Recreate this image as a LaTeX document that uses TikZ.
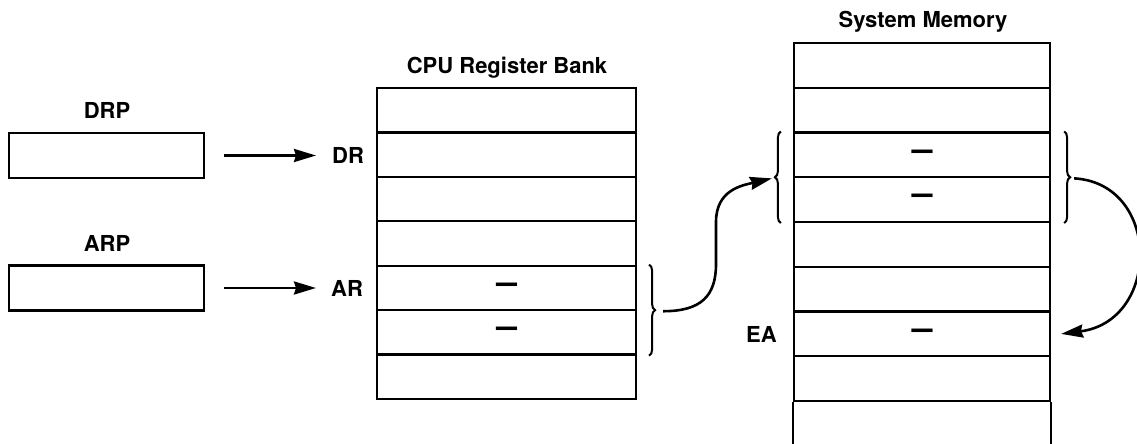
\documentclass[tikz,border=0pt]{standalone}
\usepackage{fontspec}
\setmainfont{TeX Gyre Heros}
\usetikzlibrary{arrows.meta,decorations.pathreplacing,calc}
\newcommand{\wordmark}{\raisebox{-1.5pt}{\scalebox{1}[1.6]{\textemdash}}}
\begin{document}
\begin{tikzpicture}[x=1pt,y=-1pt,
  lbl/.style={font=\fontsize{22}{26}\selectfont\bfseries, inner sep=0pt},
  regbox/.style={draw, line width=2.2pt, inner sep=0pt, minimum width=195pt, minimum height=45pt},
  cpucell/.style={draw, line width=2.2pt, inner sep=0pt, minimum width=259pt, minimum height=44.43pt,
    font=\fontsize{21}{26}\selectfont\bfseries},
  memcell/.style={draw, line width=2.2pt, inner sep=0pt, minimum width=256pt, minimum height=44.75pt,
    font=\fontsize{21}{26}\selectfont\bfseries},
  arr/.style={line width=2.6pt, -{Stealth[length=22pt,width=13pt,inset=2pt]}},
  curlybrace/.style={line width=2pt, decorate, decoration={brace, amplitude=6pt}},
]
\useasboundingbox (0,0) rectangle (1137,444);

% pointer registers
\node[regbox] (drp) at (106.5,155.5) {};
\node[regbox] (arp) at (106.5,288) {};
\node[lbl, anchor=base] (drplbl) at (107,118) {DRP};
\node[lbl, anchor=base] (arplbl) at (107,251) {ARP};

% register names
\node[lbl, anchor=base west] (dr) at (332,163) {DR};
\node[lbl, anchor=base west] (ar) at (331,296) {AR};

% CPU register bank
\node[lbl, anchor=base] (cputitle) at (507,74) {CPU Register Bank};
\node[cpucell] (c1) at (506.5,110.2) {};
\node[cpucell] (c2) at (506.5,154.6) {};
\node[cpucell] (c3) at (506.5,199.1) {};
\node[cpucell] (c4) at (506.5,243.5) {};
\node[cpucell] (c5) at (506.5,287.9) {\wordmark};
\node[cpucell] (c6) at (506.5,332.4) {\wordmark};
\node[cpucell] (c7) at (506.5,376.8) {};

% system memory
\node[lbl, anchor=base] (memtitle) at (923,28) {System Memory};
\node[memcell] (m1) at (922,65.4) {};
\node[memcell] (m2) at (922,110.1) {};
\node[memcell] (m3) at (922,154.9) {\wordmark};
\node[memcell] (m4) at (922,199.6) {\wordmark};
\node[memcell] (m5) at (922,244.4) {};
\node[memcell] (m6) at (922,289.1) {};
\node[memcell] (m7) at (922,333.9) {\wordmark};
\node[memcell] (m8) at (922,378.6) {};
\coordinate (m9l) at (m8.south west |- 0,446);
\coordinate (m9r) at (m8.south east |- 0,446);
\draw[line width=2.2pt] (m8.south west) -- (m9l);
\draw[line width=2.2pt] (m8.south east) -- (m9r);
\node[lbl, anchor=base] (ea) at (761.5,342) {EA};

% pointer register selects a register
\draw[arr, shorten <=19pt, shorten >=16pt] (drp.east) -- (drp.east -| dr.west);
\draw[arr, shorten <=19pt, shorten >=15pt] (arp.east) -- (arp.east -| ar.west);

% braces grouping the word pairs
\draw[curlybrace] ([xshift=12pt]c5.north east) -- ([xshift=12pt]c6.south east);
\draw[curlybrace] ([xshift=-12pt]m4.south west) -- ([xshift=-12pt]m3.north west);
\draw[curlybrace] ([xshift=13pt]m3.north east) -- ([xshift=13pt]m4.south east);

% indirection path
\coordinate (cpuout) at ([xshift=26pt]c5.south east);
\coordinate (bendlo) at (716,264);
\coordinate (bendhi) at (716,222);
\coordinate (memin) at ([xshift=-21pt]m3.south west);
\coordinate (memout) at ([xshift=23pt]m3.south east);
\coordinate (eain) at ([xshift=10pt]m7.east);

\draw[arr] (cpuout) .. controls +(38,0) and +(0,32) .. (bendlo) -- (bendhi)
  .. controls +(0,-32) and +(-30,7) .. (memin);
\draw[arr] (memout) .. controls +(87,5) and +(100,-13) .. (eain);
\end{tikzpicture}
\end{document}
